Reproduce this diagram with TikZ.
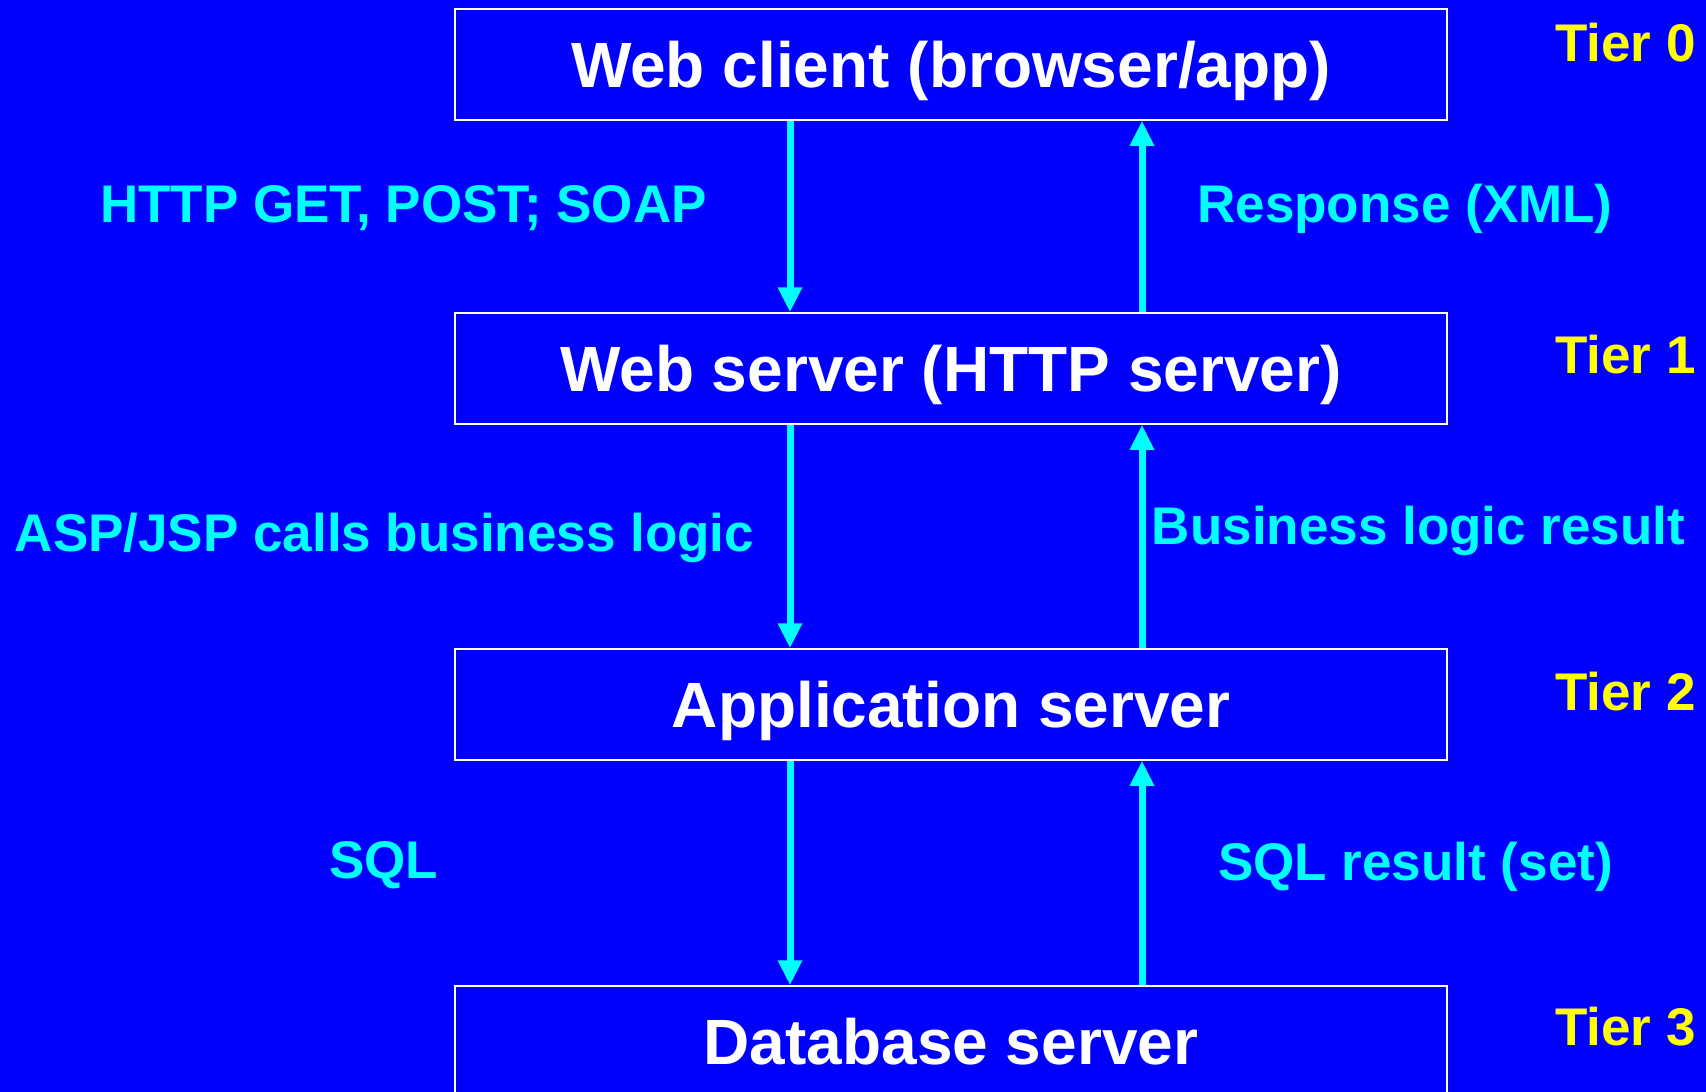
\documentclass[tikz,border=0pt]{standalone}
\usepackage{fontspec}
\setmainfont{Liberation Sans}
\usetikzlibrary{arrows.meta}
\definecolor{bg}{RGB}{0,0,255}
\definecolor{lab}{RGB}{0,255,255}
\definecolor{tier}{RGB}{255,255,0}
\begin{document}
\begin{tikzpicture}[x=1pt,y=-1pt,
  box/.style={draw=white, line width=1.5pt, minimum width=992pt, minimum height=111pt,
    inner sep=0pt, text=white, font=\fontsize{64}{64}\selectfont\bfseries,
    text height=45.8pt, text depth=0pt},
  lbl/.style={text=lab, inner sep=0pt, font=\fontsize{53}{53}\selectfont\bfseries,
    text height=37.9pt, text depth=0pt},
  tierlbl/.style={text=tier, inner sep=0pt, anchor=west,
    font=\fontsize{53}{53}\selectfont\bfseries, text height=37.9pt, text depth=0pt},
  arr/.style={draw=lab, line width=7pt, -{Triangle[width=23pt,length=25pt]}}]
\useasboundingbox (0,0) rectangle (1706,1092);
\clip (0,0) rectangle (1706,1092);
\fill[bg] (0,0) rectangle (1706,1092);

\node[box] (b0) at (951,64.5) {Web client (browser/app)};
\node[box] (b1) at (951,368.5) {Web server (HTTP server)};
\node[box] (b2) at (951,704.5) {Application server};
\node[box] (b3) at (951,1041.5) {Database server};

\node[tierlbl] (t0) at (1555,43) {Tier 0};
\node[tierlbl] (t1) at (1555,355) {Tier 1};
\node[tierlbl] (t2) at (1555,692) {Tier 2};
\node[tierlbl] (t3) at (1555,1027) {Tier 3};

\draw[arr] ([xshift=-161pt]b0.south) -- ([xshift=-161pt]b1.north);
\draw[arr] ([xshift=191pt]b1.north) -- ([xshift=191pt]b0.south);
\draw[arr] ([xshift=-161pt]b1.south) -- ([xshift=-161pt]b2.north);
\draw[arr] ([xshift=191pt]b2.north) -- ([xshift=191pt]b1.south);
\draw[arr] ([xshift=-161pt]b2.south) -- ([xshift=-161pt]b3.north);
\draw[arr] ([xshift=191pt]b3.north) -- ([xshift=191pt]b2.south);

\node[lbl] (l0) at (403.5,204) {HTTP GET, POST; SOAP};
\node[lbl] (r0) at (1405,204) {Response (XML)};
\node[lbl] (l1) at (384.5,533) {ASP/JSP calls business logic};
\node[lbl] (r1) at (1418.5,525.5) {Business logic result};
\node[lbl] (l2) at (383.5,860) {SQL};
\node[lbl] (r2) at (1415.5,862) {SQL result (set)};
\end{tikzpicture}
\end{document}
